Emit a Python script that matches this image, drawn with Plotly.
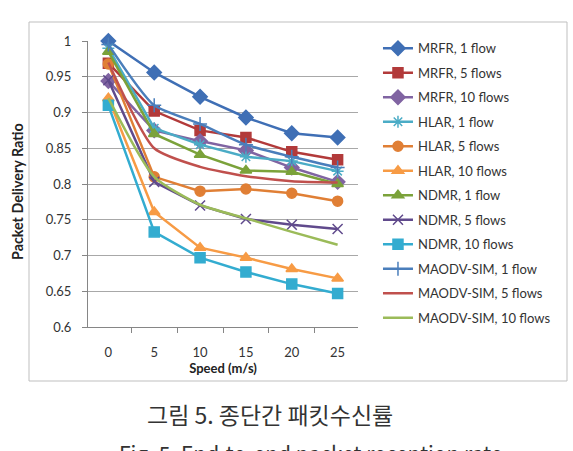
import plotly.graph_objects as go

speeds = ["0", "5", "10", "15", "20", "25"]

mrfr_1 = [1.000, 0.956, 0.922, 0.893, 0.871, 0.865]
mrfr_5 = [0.969, 0.902, 0.875, 0.865, 0.845, 0.834]
mrfr_10 = [0.944, 0.875, 0.860, 0.847, 0.823, 0.803]
hlar_1 = [0.990, 0.878, 0.855, 0.838, 0.832, 0.818]
hlar_5 = [0.968, 0.810, 0.790, 0.793, 0.787, 0.776]
hlar_10 = [0.920, 0.761, 0.711, 0.697, 0.681, 0.668]
ndmr_1 = [0.985, 0.870, 0.841, 0.819, 0.817, 0.800]
ndmr_5 = [0.945, 0.803, 0.770, 0.751, 0.743, 0.737]
ndmr_10 = [0.910, 0.733, 0.697, 0.677, 0.660, 0.647]
maodv_1 = [0.995, 0.910, 0.884, 0.855, 0.838, 0.823]
maodv_5 = [0.970, 0.850, 0.824, 0.811, 0.804, 0.802]
maodv_10 = [0.920, 0.810, 0.771, 0.752, 0.733, 0.715]

y_ticks = [0.6, 0.65, 0.7, 0.75, 0.8, 0.85, 0.9, 0.95, 1.0]
y_tick_text = ["0.6", "0.65", "0.7", "0.75", "0.8", "0.85", "0.9", "0.95", "1"]

series = [
    ("MRFR, 1 flow", mrfr_1, "#3F6FB5", "diamond", 11, "linear"),
    ("MRFR, 5 flows", mrfr_5, "#B23A3A", "square", 10, "linear"),
    ("MRFR, 10 flows", mrfr_10, "#8064A2", "diamond", 11, "linear"),
    ("HLAR, 1 flow", hlar_1, "#4BACC6", "asterisk-open", 10, "linear"),
    ("HLAR, 5 flows", hlar_5, "#E07F35", "circle", 10, "linear"),
    ("HLAR, 10 flows", hlar_10, "#F79B45", "triangle-up", 10, "linear"),
    ("NDMR, 1 flow", ndmr_1, "#7BA23A", "triangle-up", 10, "linear"),
    ("NDMR, 5 flows", ndmr_5, "#604A8C", "x-thin-open", 10, "linear"),
    ("NDMR, 10 flows", ndmr_10, "#33ACD0", "square", 10, "linear"),
    ("MAODV-SIM, 1 flow", maodv_1, "#4A7EBB", "cross-thin-open", 10, "spline"),
    ("MAODV-SIM, 5 flows", maodv_5, "#C0504D", None, 0, "spline"),
    ("MAODV-SIM, 10 flows", maodv_10, "#9BBB59", None, 0, "spline"),
]

fig = go.Figure()
for i, (name, vals, col, sym, size, shape) in enumerate(series):
    if sym is None:
        mode = "lines"
        marker = dict()
    else:
        mode = "lines+markers"
        marker = dict(symbol=sym, size=size, color=col,
                      line=dict(color=col, width=1.5))
    fig.add_trace(go.Scatter(
        x=speeds, y=vals, name=name, mode=mode, marker=marker,
        line=dict(color=col, width=2.5, shape=shape, smoothing=0.6),
        cliponaxis=False, legendgroup=f"g{i}",
    ))

fig.update_layout(
    width=573, height=451,
    margin=dict(l=88, r=215, t=41, b=124),
    plot_bgcolor="white", paper_bgcolor="white",
    font=dict(family="Lato, 'Liberation Sans', sans-serif", size=13, color="#333333"),
    showlegend=True,
    legend=dict(x=1.074, y=1.027, xanchor="left", yanchor="top",
                font=dict(size=13, color="#333333"), maxheight=420,
                itemwidth=30, tracegroupgap=4.6, bgcolor="rgba(0,0,0,0)"),
    xaxis=dict(type="category", categoryorder="array", categoryarray=speeds,
               showgrid=False, showline=True, linecolor="#868686", linewidth=1,
               ticks="outside", tickson="boundaries", ticklen=5, tickcolor="#868686",
               ticklabelstandoff=13,
               tickfont=dict(size=13, color="#333333"),
               title=dict(text="<b>Speed (m/s)</b>", font=dict(size=13, color="#222222"),
                          standoff=0)),
    yaxis=dict(range=[0.6, 1.0], tickvals=y_ticks, ticktext=y_tick_text,
               showgrid=True, gridcolor="#A8A8A8", gridwidth=1,
               showline=True, linecolor="#868686", linewidth=1,
               ticks="outside", ticklen=5, tickcolor="#868686",
               ticklabelstandoff=8, zeroline=False,
               tickfont=dict(size=13, color="#333333")),
)

# outer chart border
fig.add_shape(type="rect", xref="paper", yref="paper",
              x0=(29 - 88) / 270, x1=(567 - 88) / 270,
              y0=(327 - 381) / 286, y1=(327 - 22) / 286,
              line=dict(color="#BFBFBF", width=1), fillcolor="rgba(0,0,0,0)", layer="below")

# y-axis title placed outside the border
fig.add_annotation(xref="paper", yref="paper", x=(18 - 88) / 270, y=(327 - 192) / 286,
                   text="<b>Packet Delivery Ratio</b>", textangle=-90, showarrow=False,
                   font=dict(size=14.3, color="#222222"), xanchor="center", yanchor="middle")

# captions
fig.add_annotation(xref="paper", yref="paper", x=(270 - 88) / 270, y=(327 - 414) / 286,
                   text="그림 5. 종단간 패킷수신률", showarrow=False,
                   font=dict(family="Noto Sans CJK KR", size=23, color="#333333"),
                   xanchor="center", yanchor="middle")
fig.add_annotation(xref="paper", yref="paper", x=(310 - 88) / 270, y=(327 - 453) / 286,
                   text="Fig. 5. End-to-end packet reception rate", showarrow=False,
                   font=dict(family="Noto Sans CJK KR", size=21, color="#333333"),
                   xanchor="center", yanchor="middle")

fig.write_html("out.html")
